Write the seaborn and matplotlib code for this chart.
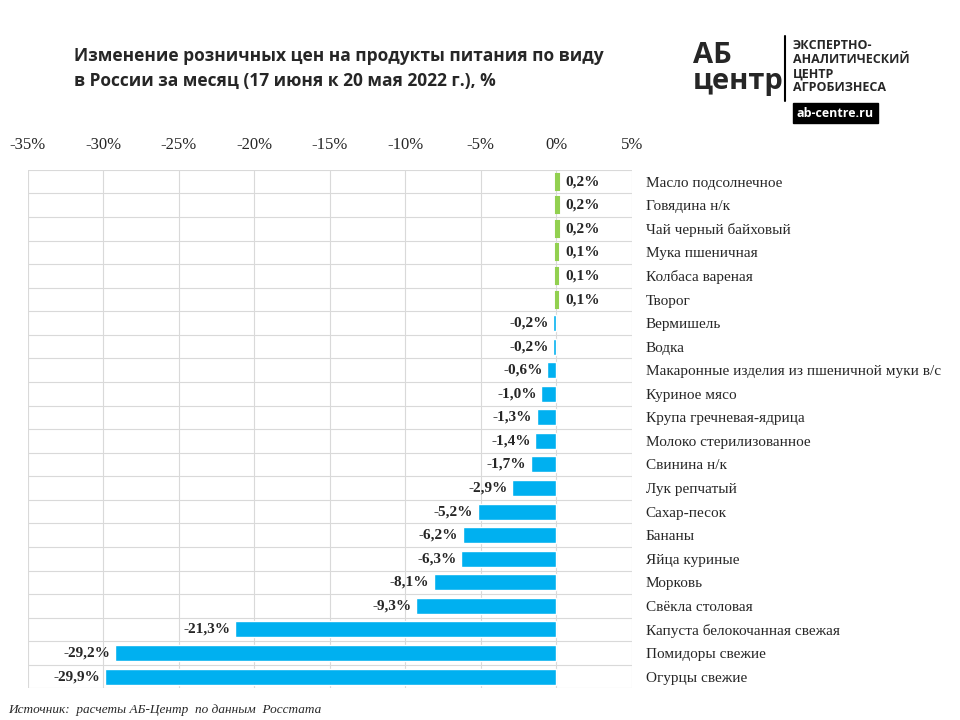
import matplotlib
matplotlib.use("Agg")
import matplotlib.pyplot as plt
import seaborn as sns
import pandas as pd

products = [
    "Масло подсолнечное", "Говядина н/к", "Чай черный байховый", "Мука пшеничная",
    "Колбаса вареная", "Творог", "Вермишель", "Водка",
    "Макаронные изделия из пшеничной муки в/с", "Куриное мясо", "Крупа гречневая-ядрица",
    "Молоко стерилизованное", "Свинина н/к", "Лук репчатый", "Сахар-песок", "Бананы",
    "Яйца куриные", "Морковь", "Свёкла столовая", "Капуста белокочанная свежая",
    "Помидоры свежие", "Огурцы свежие",
]
changes = [0.2, 0.2, 0.2, 0.1, 0.1, 0.1, -0.2, -0.2, -0.6, -1.0, -1.3, -1.4, -1.7,
           -2.9, -5.2, -6.2, -6.3, -8.1, -9.3, -21.3, -29.2, -29.9]
x_ticks = [-35, -30, -25, -20, -15, -10, -5, 0, 5]

df = pd.DataFrame({"product": products, "change": changes})
df["sign"] = ["pos" if v > 0 else "neg" for v in changes]

sns.set_theme(style="white")
serif = ["Liberation Serif", "DejaVu Serif"]
sans = ["Open Sans", "DejaVu Sans"]

fig = plt.figure(figsize=(9.6, 7.2), dpi=100)
ax = fig.add_axes([0.029, 0.044, 0.629, 0.72])
sns.barplot(data=df, x="change", y="product", hue="sign", orient="h",
            palette={"pos": "#92D050", "neg": "#00B0F0"}, dodge=False,
            legend=False, width=0.68, saturation=1, ax=ax)
for p in ax.patches:
    if p.get_width() > 0:
        p.set_edgecolor("#92D050")
        p.set_linewidth(1.5)

ax.set_xlim(-35, 5)
ax.set_ylim(len(products) - 0.5, -0.5)
ax.set_xticks(x_ticks)
ax.set_xticklabels([f"{t}%" for t in x_ticks], family=serif, fontsize=12)
ax.xaxis.tick_top()
ax.tick_params(axis="x", length=0, pad=12)
ax.set_yticks(range(len(products)))
ax.set_yticklabels(products, family=serif, fontsize=11)
ax.yaxis.tick_right()
ax.tick_params(axis="y", length=0, pad=10)
ax.set_xlabel("")
ax.set_ylabel("")
for x in x_ticks:
    ax.axvline(x, color="#d9d9d9", lw=0.8, zorder=0)
for i in range(len(products) + 1):
    ax.axhline(i - 0.5, color="#d9d9d9", lw=0.8, zorder=0)
for s in ax.spines.values():
    s.set_visible(False)

for i, v in enumerate(changes):
    txt = f"{v:.1f}%".replace(".", ",")
    if v > 0:
        ax.text(0.6, i, txt, ha="left", va="center", family=serif,
                fontsize=11, fontweight="bold")
    else:
        ax.text(v - 0.3, i, txt, ha="right", va="center", family=serif,
                fontsize=11, fontweight="bold")

fig.text(0.077, 0.905, "Изменение розничных цен на продукты питания по виду\n"
         "в России за месяц (17 июня к 20 мая 2022 г.), %",
         family=sans, fontsize=12.5, fontweight="bold", va="center", linespacing=1.5)

# logo
fig.text(0.722, 0.905, "АБ\nцентр", family=sans, fontsize=21, fontweight="bold",
         va="center", ha="left", linespacing=0.85)
fig.add_artist(plt.Line2D([0.818, 0.818], [0.86, 0.95], color="black", lw=1.5))
fig.text(0.826, 0.907, "ЭКСПЕРТНО-\nАНАЛИТИЧЕСКИЙ\nЦЕНТР\nАГРОБИЗНЕСА",
         family=sans, fontsize=9, fontweight="bold", va="center", linespacing=1.1)
fig.text(0.87, 0.843, "ab-centre.ru", family=sans, fontsize=9, fontweight="bold",
         color="white", ha="center", va="center",
         bbox=dict(boxstyle="square,pad=0.3", fc="black", ec="black"))

fig.text(0.008, 0.01, "Источник:  расчеты АБ-Центр  по данным  Росстата",
         family=serif, fontsize=9.5, style="italic")

fig.savefig("out.png", dpi=100)
